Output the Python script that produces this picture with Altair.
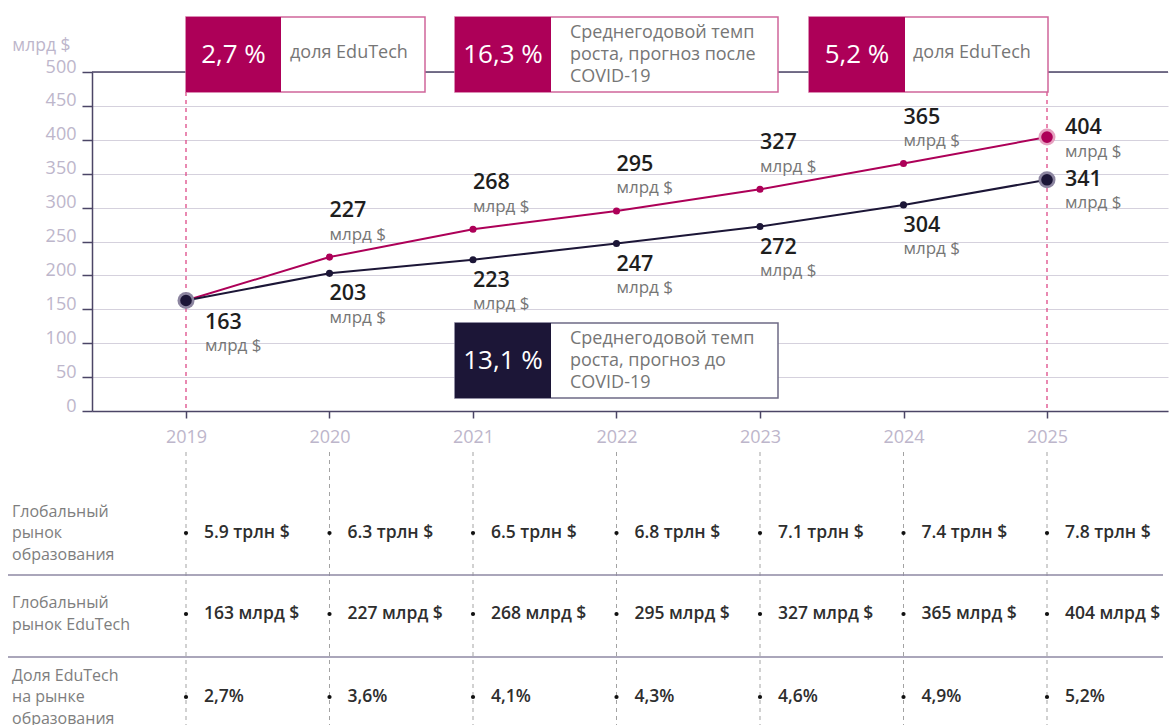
import altair as alt
import pandas as pd

# ---------------- data ----------------
years = [2019, 2020, 2021, 2022, 2023, 2024, 2025]
post_covid = [163, 227, 268, 295, 327, 365, 404]   # forecast after COVID-19 (pink)
pre_covid = [163, 203, 223, 247, 272, 304, 341]    # forecast before COVID-19 (navy)
unit = "млрд $"
y_ticks = [0, 50, 100, 150, 200, 250, 300, 350, 400, 450, 500]

edu_market = ["5.9 трлн $", "6.3 трлн $", "6.5 трлн $", "6.8 трлн $", "7.1 трлн $", "7.4 трлн $", "7.8 трлн $"]
edutech_market = ["163 млрд $", "227 млрд $", "268 млрд $", "295 млрд $", "327 млрд $", "365 млрд $", "404 млрд $"]
edutech_share = ["2,7%", "3,6%", "4,1%", "4,3%", "4,6%", "4,9%", "5,2%"]
row_labels = ["Глобальный\nрынок\nобразования", "Глобальный\nрынок EduTech", "Доля EduTech\nна рынке\nобразования"]

box_values = ["2,7 %", "16,3 %", "5,2 %", "13,1 %"]
box_texts = ["доля EduTech",
             "Среднегодовой темп\nроста, прогноз после\nCOVID-19",
             "доля EduTech",
             "Среднегодовой темп\nроста, прогноз до\nCOVID-19"]

# ---------------- styles / layout ----------------
PINK = "#AD0058"
PINK_HALO = "#E6A1C0"
NAVY = "#1C1637"
NAVY_HALO = "#8C85A0"
AXIS = "#4B4566"
GRID = "#D5D1DD"
TICKLAB = "#BDB6CB"
GREY_TXT = "#767676"
FONT = "Open Sans"

LEFT, TOP, W, H = 92, 72, 1076, 339
STEP = 143.5
X0 = 186  # pixel of first year


def px(x):
    return x - LEFT


def py(y):
    return y - TOP


def first_line_y(center, text, lh):
    n = text.count("\n") + 1
    return center - (n - 1) * lh / 2


xscale = alt.Scale(domain=[years[0] - (X0 - LEFT) / STEP, years[0] + (LEFT + W - X0) / STEP],
                   nice=False, zero=False)
yscale = alt.Scale(domain=[0, 500], nice=False, zero=True)

xaxis = alt.Axis(values=years, format="d", title=None, grid=False, tickSize=7, tickColor=AXIS,
                 tickWidth=1.5, domainColor=AXIS, domainWidth=1.5, labelColor=TICKLAB,
                 labelFontSize=18, labelFont=FONT, labelPadding=10)
yaxis = alt.Axis(values=y_ticks, title=unit, titleAngle=0, titleAlign="right", titleX=-22, titleY=-27,
                 titleBaseline="middle", titleColor=TICKLAB, titleFontSize=17.5, titleFont=FONT,
                 titleFontWeight="normal", grid=True, gridColor=GRID, gridWidth=1.2,
                 domainColor=AXIS, domainWidth=1.5, tickColor=AXIS, tickWidth=1.5, tickSize=10,
                 labelColor=TICKLAB, labelFontSize=18, labelFont=FONT, labelPadding=6,
                 labelBaseline="alphabetic")

X = alt.X("year:Q", scale=xscale, axis=xaxis)
Y = alt.Y("value:Q", scale=yscale, axis=yaxis)

pink_df = pd.DataFrame({"year": years, "value": post_covid, "label": [str(v) for v in post_covid]})
navy_df = pd.DataFrame({"year": years, "value": pre_covid, "label": [str(v) for v in pre_covid]})
one = pd.DataFrame({"k": [0]})

layers = []

# top line (500) dark
layers.append(alt.Chart(one).mark_rule(color=AXIS, strokeWidth=1.5).encode(y=alt.datum(500, scale=yscale, axis=yaxis)))

# pink dashed verticals at first/last year
edge_df = pd.DataFrame({"year": [years[0], years[-1]]})
layers.append(alt.Chart(edge_df).mark_rule(color="#DD4A88", strokeDash=[4, 4], strokeWidth=1.3).encode(
    x=X, y=alt.value(py(92)), y2=alt.value(py(411))))

# grey dashed verticals through the table
yr_df = pd.DataFrame({"year": years})
layers.append(alt.Chart(yr_df).mark_rule(color="#A3A3A3", strokeDash=[4, 4], strokeWidth=1).encode(
    x=X, y=alt.value(py(452)), y2=alt.value(py(725))))

# lines
layers.append(alt.Chart(pink_df).mark_line(color=PINK, strokeWidth=2).encode(x=X, y=Y))
layers.append(alt.Chart(navy_df).mark_line(color=NAVY, strokeWidth=2).encode(x=X, y=Y))

# points
mid_p = pink_df.iloc[1:-1]
mid_n = navy_df.iloc[1:-1]
end_p = pink_df.iloc[[-1]]
end_n = navy_df.iloc[[0, -1]]
layers.append(alt.Chart(mid_p).mark_circle(color=PINK, size=50, opacity=1).encode(x=X, y=Y))
layers.append(alt.Chart(mid_n).mark_circle(color=NAVY, size=50, opacity=1).encode(x=X, y=Y))
layers.append(alt.Chart(end_p).mark_circle(color=PINK_HALO, size=290, opacity=1).encode(x=X, y=Y))
layers.append(alt.Chart(end_p).mark_circle(color=PINK, size=135, opacity=1).encode(x=X, y=Y))
layers.append(alt.Chart(end_n).mark_circle(color=NAVY_HALO, size=290, opacity=1).encode(x=X, y=Y))
layers.append(alt.Chart(end_n).mark_circle(color=NAVY, size=135, opacity=1).encode(x=X, y=Y))


def value_labels(df, dx, dy_num, dy_unit):
    num = alt.Chart(df).mark_text(align="left", baseline="middle", dx=dx, dy=dy_num, fontSize=21.5,
                                  font=FONT, fontWeight=600, color="#1E1E1E").encode(x=X, y=Y, text="label:N")
    un = alt.Chart(df).mark_text(align="left", baseline="middle", dx=dx, dy=dy_unit, fontSize=17,
                                 font=FONT, color=GREY_TXT).encode(x=X, y=Y, text=alt.value(unit))
    return [num, un]


layers += value_labels(mid_p, 0, -46, -22.5)
layers += value_labels(mid_n, 0, 21, 44.5)
layers += value_labels(end_p, 18, -9, 14.5)
layers += value_labels(navy_df.iloc[[-1]], 18, 0, 23.5)
layers += value_labels(navy_df.iloc[[0]], 19, 22.5, 46)

# annotation boxes: (left, split, right, top, bottom, fill, stroke, desc_x)
box_geom = [
    (186, 281, 425, 17, 92, PINK, "#D0659A", 290),
    (455, 551, 778, 17, 92, PINK, "#D0659A", 570),
    (809, 905, 1048, 17, 92, PINK, "#D0659A", 913),
    (455, 551, 778, 323, 398, NAVY, "#6E6985", 570),
]
BOX_LH = 22
for (l, s, r, t, b, fill, stroke, dxp), val, desc in zip(box_geom, box_values, box_texts):
    layers.append(alt.Chart(one).mark_rect(fill="white", stroke=stroke, strokeWidth=1.5).encode(
        x=alt.value(px(l)), x2=alt.value(px(r)), y=alt.value(py(t)), y2=alt.value(py(b))))
    layers.append(alt.Chart(one).mark_rect(fill=fill).encode(
        x=alt.value(px(l)), x2=alt.value(px(s)), y=alt.value(py(t)), y2=alt.value(py(b))))
    layers.append(alt.Chart(one).mark_text(align="center", baseline="middle", fontSize=26, font=FONT,
                                           color="white").encode(
        x=alt.value(px((l + s) / 2)), y=alt.value(py((t + b) / 2)), text=alt.value(val)))
    nlines = desc.count("\n") + 1
    center = (t + b) / 2 - (2 if nlines == 1 else 0)
    layers.append(alt.Chart(one).mark_text(align="left", baseline="middle", fontSize=18, font=FONT,
                                           color=GREY_TXT, lineBreak="\n", lineHeight=BOX_LH).encode(
        x=alt.value(px(dxp)), y=alt.value(py(first_line_y(center, desc, BOX_LH))), text=alt.value(desc)))

# table
row_y = [533, 614, 697]
row_vals = [edu_market, edutech_market, edutech_share]
TAB_LH = 21.5
for ry, vals, lab in zip(row_y, row_vals, row_labels):
    df = pd.DataFrame({"year": years, "t": vals})
    layers.append(alt.Chart(df).mark_circle(color="#111111", size=18, opacity=1).encode(
        x=X, y=alt.value(py(ry))))
    layers.append(alt.Chart(df).mark_text(align="left", baseline="middle", dx=18, fontSize=17.5, font=FONT,
                                          fontWeight=600, color="#2E2E2E").encode(
        x=X, y=alt.value(py(ry)), text="t:N"))
    layers.append(alt.Chart(one).mark_text(align="left", baseline="middle", fontSize=16, font=FONT,
                                           color="#7E7E7E", lineBreak="\n", lineHeight=TAB_LH).encode(
        x=alt.value(px(12)), y=alt.value(py(first_line_y(ry, lab, TAB_LH))), text=alt.value(lab)))

for sy in [575, 657]:
    layers.append(alt.Chart(one).mark_rule(color="#8E88A3", strokeWidth=1.3).encode(
        x=alt.value(px(8)), x2=alt.value(px(1163)), y=alt.value(py(sy))))

chart = alt.layer(*layers).properties(
    width=W, height=H,
    padding={"left": LEFT, "top": TOP, "right": 1173 - LEFT - W, "bottom": 725 - TOP - H},
    autosize=alt.AutoSizeParams(type="none"),
    background="white",
).configure_view(stroke=None)

chart.save("out.html", embed_options={"renderer": "svg", "actions": False})
